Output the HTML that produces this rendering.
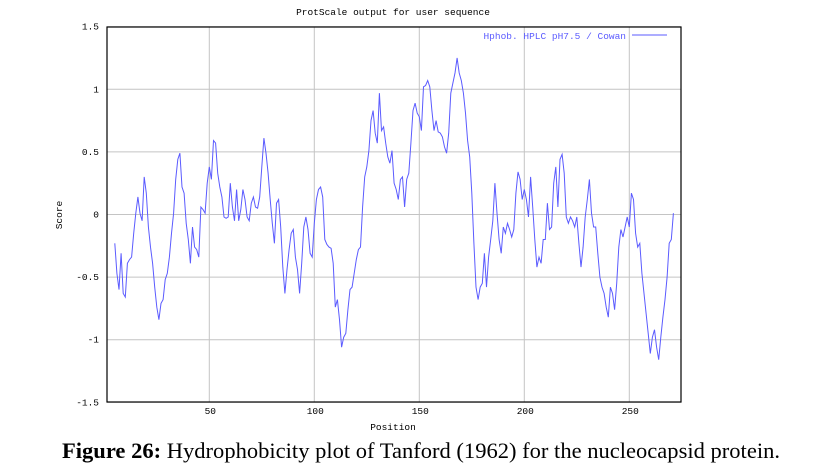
<!DOCTYPE html>
<html><head><meta charset="utf-8"><style>
html,body{margin:0;padding:0;background:#fff;}
svg{display:block;}
.t{font-family:"Liberation Mono",monospace;font-size:9.5px;fill:#000;}
</style></head><body>
<svg id="chart" width="814" height="466" viewBox="0 0 814 466" xmlns="http://www.w3.org/2000/svg">
<g id="grid"></g>
<g id="axes"></g>
<path id="series" fill="none" stroke="#5b5bff" stroke-width="1"/>
<text class="t" x="393" y="15" text-anchor="middle">ProtScale output for user sequence</text>
<g>
<text class="t" x="626" y="39" text-anchor="end" style="fill:#5b5bff">Hphob. HPLC pH7.5 / Cowan</text>
<line x1="632" y1="35" x2="667" y2="35" stroke="#5b5bff"/>
</g>
<text class="t" x="393" y="430" text-anchor="middle">Position</text>
<text class="t" x="62" y="215" text-anchor="middle" transform="rotate(-90 62 215)">Score</text>
<text x="421" y="458" text-anchor="middle" textLength="718" lengthAdjust="spacingAndGlyphs" style="font-family:'Liberation Serif',serif;font-size:22.5px;fill:#000"><tspan font-weight="bold">Figure 26:</tspan> Hydrophobicity plot of Tanford (1962) for the nucleocapsid protein.</text>
</svg>
<script>
const startPos = 5;
const scores = [-0.23,-0.47,-0.6,-0.31,-0.63,-0.66,-0.39,-0.36,-0.34,-0.15,0.01,0.14,0.01,-0.05,0.30,0.17,-0.10,-0.26,-0.39,-0.58,-0.74,-0.84,-0.71,-0.68,-0.52,-0.47,-0.34,-0.15,0.01,0.28,0.44,0.49,0.22,0.17,-0.07,-0.20,-0.39,-0.10,-0.26,-0.28,-0.34,0.06,0.04,0.01,0.25,0.38,0.28,0.59,0.57,0.33,0.22,0.14,-0.02,-0.03,-0.02,0.25,0.06,-0.05,0.20,-0.05,0.04,0.20,0.12,-0.02,-0.05,0.09,0.14,0.06,0.05,0.14,0.38,0.61,0.49,0.33,0.12,-0.07,-0.23,0.09,0.12,-0.10,-0.42,-0.63,-0.44,-0.28,-0.15,-0.12,-0.34,-0.44,-0.63,-0.39,-0.10,-0.02,-0.12,-0.31,-0.34,-0.07,0.12,0.20,0.22,0.14,-0.20,-0.24,-0.26,-0.27,-0.39,-0.74,-0.68,-0.84,-1.06,-0.98,-0.95,-0.76,-0.60,-0.58,-0.47,-0.36,-0.28,-0.26,0.06,0.30,0.38,0.51,0.75,0.83,0.65,0.57,0.97,0.67,0.70,0.57,0.46,0.41,0.51,0.25,0.20,0.12,0.28,0.30,0.06,0.28,0.33,0.57,0.83,0.89,0.81,0.78,0.67,1.02,1.03,1.07,1.02,0.83,0.67,0.75,0.66,0.65,0.62,0.54,0.49,0.65,0.97,1.05,1.13,1.25,1.13,1.07,0.97,0.81,0.59,0.46,0.17,-0.23,-0.58,-0.68,-0.58,-0.55,-0.31,-0.58,-0.34,-0.20,-0.05,0.25,0.01,-0.20,-0.31,-0.10,-0.15,-0.07,-0.12,-0.18,-0.12,0.17,0.34,0.28,0.12,0.20,0.12,-0.02,0.30,0.06,-0.20,-0.42,-0.34,-0.39,-0.20,-0.20,0.09,-0.12,-0.10,0.25,0.38,0.06,0.44,0.48,0.33,-0.02,-0.07,-0.02,-0.05,-0.10,-0.02,-0.23,-0.42,-0.26,-0.02,0.12,0.28,0.01,-0.10,-0.10,-0.31,-0.50,-0.58,-0.63,-0.74,-0.82,-0.58,-0.63,-0.76,-0.55,-0.26,-0.12,-0.18,-0.10,-0.02,-0.10,0.17,0.12,-0.15,-0.26,-0.23,-0.47,-0.63,-0.79,-0.95,-1.11,-0.98,-0.92,-1.06,-1.16,-0.98,-0.82,-0.68,-0.50,-0.23,-0.20,0.01];
const xTicks = [50,100,150,200,250];
const yTicks = [-1.5,-1,-0.5,0,0.5,1,1.5];
const yTickLabels = ["-1.5","-1","-0.5","0","0.5","1","1.5"];

const L=107,R=681,T=27,B=402;
const xs = p => 104.3 + 2.1*p;
const ys = v => 214.5 - 125.2*v;
const NS="http://www.w3.org/2000/svg";
const grid=document.getElementById('grid'), axes=document.getElementById('axes');
function mk(tag,attrs,parent){const e=document.createElementNS(NS,tag);for(const k in attrs)e.setAttribute(k,attrs[k]);parent.appendChild(e);return e;}
yTicks.forEach((v,i)=>{
  const y=ys(v);
  const g=mk('line',{x1:L,x2:R,y1:y,y2:y,stroke:'#c4c4c4','stroke-width':1},grid);
  
  
  const t=mk('text',{x:L-8,y:y+3,'text-anchor':'end',class:'t'},axes);
  t.textContent=yTickLabels[i];
  
  
});
xTicks.forEach(p=>{
  const x=xs(p);
  const g=mk('line',{x1:x,x2:x,y1:T,y2:B,stroke:'#c4c4c4','stroke-width':1},grid);
  
  
  const t=mk('text',{x:x+1,y:414,'text-anchor':'middle',class:'t'},axes);
  t.textContent=String(p);
  
  
});
const fr=mk('rect',{x:L,y:T,width:R-L,height:B-T,fill:'none',stroke:'#000','stroke-width':1.2},axes);


let d='';
scores.forEach((v,i)=>{d+=(i?'L':'M')+xs(startPos+i).toFixed(1)+' '+ys(v).toFixed(1)+' ';});
document.getElementById('series').setAttribute('d',d);
</script>
</body></html>
